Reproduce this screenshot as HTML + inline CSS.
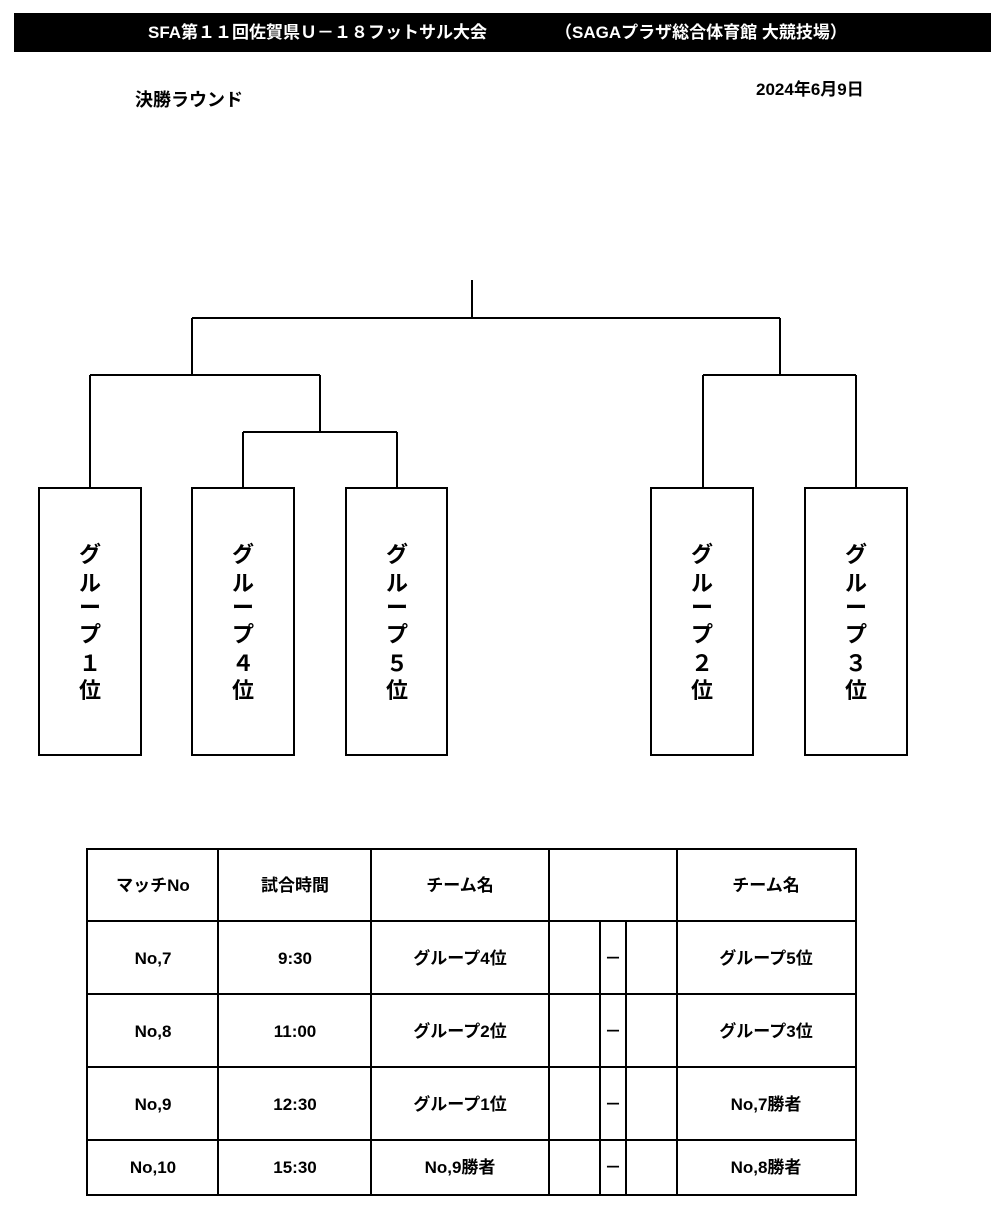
<!DOCTYPE html>
<html><head><meta charset="utf-8"><style>
body{margin:0;background:#fff;width:1000px;height:1211px;overflow:hidden;font-family:"Liberation Sans","Noto Sans CJK JP",sans-serif;}
svg{position:absolute;left:0;top:0}
</style></head><body>
<svg width="1000" height="1211" viewBox="0 0 1000 1211" font-family="'Liberation Sans','Noto Sans CJK JP',sans-serif" font-weight="bold">
<rect x="14" y="13" width="977" height="39" fill="#000"/>
<text x="148" y="38" fill="#fff" font-size="17">SFA第１１回佐賀県Ｕ－１８フットサル大会</text>
<text x="555" y="38" fill="#fff" font-size="17">（SAGAプラザ総合体育館  大競技場）</text>
<text x="135" y="106" font-size="18">決勝ラウンド</text>
<text x="756" y="95" font-size="17">2024年6月9日</text>
<g stroke="#000" stroke-width="2" fill="none">
<path d="M472 280V318M192 318H780M192 318V375M90 375H320M90 375V488M320 375V432M243 432H397M243 432V488M397 432V488M780 318V375M703 375H856M703 375V488M856 375V488"/>
<rect x="39" y="488" width="102" height="267"/>
<rect x="192" y="488" width="102" height="267"/>
<rect x="346" y="488" width="101" height="267"/>
<rect x="651" y="488" width="102" height="267"/>
<rect x="805" y="488" width="102" height="267"/>
</g>
<g font-size="22" text-anchor="middle">
<g transform="translate(90,0)"><text y="562">グ</text><text y="591">ル</text><text y="615">ー</text><text y="642">プ</text><text y="671">１</text><text y="698">位</text></g>
<g transform="translate(243,0)"><text y="562">グ</text><text y="591">ル</text><text y="615">ー</text><text y="642">プ</text><text y="671">４</text><text y="698">位</text></g>
<g transform="translate(397,0)"><text y="562">グ</text><text y="591">ル</text><text y="615">ー</text><text y="642">プ</text><text y="671">５</text><text y="698">位</text></g>
<g transform="translate(702,0)"><text y="562">グ</text><text y="591">ル</text><text y="615">ー</text><text y="642">プ</text><text y="671">２</text><text y="698">位</text></g>
<g transform="translate(856,0)"><text y="562">グ</text><text y="591">ル</text><text y="615">ー</text><text y="642">プ</text><text y="671">３</text><text y="698">位</text></g>
</g>
<g stroke="#000" stroke-width="2" fill="none">
<rect x="87" y="849" width="769" height="346"/>
<path d="M87 921H856M87 994H856M87 1067H856M87 1140H856M218 849V1195M371 849V1195M549 849V1195M677 849V1195M600 921V1195M626 921V1195"/>
</g>
<g font-size="17" text-anchor="middle">
<text x="153" y="891">マッチNo</text><text x="295" y="891">試合時間</text><text x="460" y="891">チーム名</text><text x="766" y="891">チーム名</text>
<text x="153" y="964">No,7</text><text x="295" y="964">9:30</text><text x="460" y="964">グループ4位</text><text x="613" y="964">－</text><text x="766" y="964">グループ5位</text>
<text x="153" y="1037">No,8</text><text x="295" y="1037">11:00</text><text x="460" y="1037">グループ2位</text><text x="613" y="1037">－</text><text x="766" y="1037">グループ3位</text>
<text x="153" y="1110">No,9</text><text x="295" y="1110">12:30</text><text x="460" y="1110">グループ1位</text><text x="613" y="1110">－</text><text x="766" y="1110">No,7勝者</text>
<text x="153" y="1173">No,10</text><text x="295" y="1173">15:30</text><text x="460" y="1173">No,9勝者</text><text x="613" y="1173">－</text><text x="766" y="1173">No,8勝者</text>
</g>
</svg>
</body></html>
